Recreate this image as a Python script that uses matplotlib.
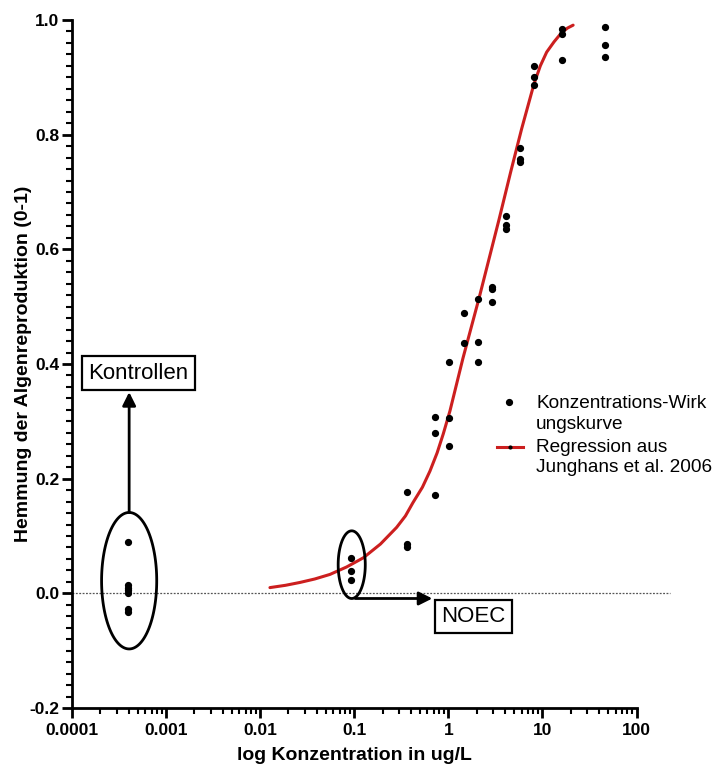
import numpy as np
import matplotlib
matplotlib.use('Agg')
import matplotlib.pyplot as plt
from matplotlib.ticker import FixedLocator, FixedFormatter, LogLocator, MultipleLocator, NullFormatter
from matplotlib.lines import Line2D
from matplotlib.patches import Polygon

plt.rcParams['font.family'] = ['Liberation Sans', 'DejaVu Sans']
plt.rcParams['axes.unicode_minus'] = False

# ---------------- data ----------------
control_conc = 3.9e-4
control_inhib = [0.089, 0.015, 0.010, 0.005, 0.0, -0.027, -0.033]

test_conc = [0.0916, 0.366, 0.726, 1.02, 1.45, 2.06, 2.93, 4.1, 5.77, 8.12, 16.2, 46.0]
test_inhib = [
    [0.061, 0.039, 0.024],
    [0.176, 0.0855, 0.081],
    [0.307, 0.280, 0.172],
    [0.404, 0.306, 0.257],
    [0.489, 0.436],
    [0.514, 0.438, 0.403],
    [0.534, 0.530, 0.508],
    [0.658, 0.642, 0.636],
    [0.777, 0.757, 0.752],
    [0.920, 0.901, 0.887],
    [0.984, 0.976, 0.930],
    [0.988, 0.956, 0.936],
]

# regression curve (Junghans et al. 2006)
fit_conc = [0.0127, 0.0186, 0.0265, 0.038, 0.0552, 0.083, 0.125, 0.19, 0.282,
            0.35, 0.42, 0.53, 0.637, 0.76, 0.883, 1.04, 1.43, 2.13, 3.47, 4.6,
            6.01, 8.12, 9.5, 11.1, 13.3, 16.0, 18.5, 21.2]
fit_inhib = [0.010, 0.014, 0.019, 0.025, 0.033, 0.046, 0.062, 0.086, 0.115,
             0.135, 0.158, 0.185, 0.213, 0.245, 0.278, 0.318, 0.41, 0.516,
             0.653, 0.735, 0.81, 0.888, 0.92, 0.944, 0.962, 0.978, 0.986, 0.991]

x_ticks = [1e-4, 1e-3, 1e-2, 1e-1, 1, 10, 100]
x_tick_labels = ['0.0001', '0.001', '0.01', '0.1', '1', '10', '100']
y_ticks = [-0.2, 0.0, 0.2, 0.4, 0.6, 0.8, 1.0]
y_tick_labels = ['-0.2', '0.0', '0.2', '0.4', '0.6', '0.8', '1.0']

legend_points = 'Konzentrations-Wirk\nungskurve'
legend_fit = 'Regression aus\nJunghans et al. 2006'

RED = '#cc1f1f'

# ---------------- figure ----------------
W, H = 719, 765
fig = plt.figure(figsize=(W / 100, H / 100), dpi=100)
ax = fig.add_axes([72 / W, 1 - 708 / H, 564.5 / W, 688 / H])
ax.set_xscale('log')
ax.set_xlim(1e-4, 100)
ax.set_ylim(-0.2, 1.0)

# zero reference line
ax.plot([1e-4, 229], [0, 0], color='#555555', lw=0.9, dashes=(1.5, 1.2),
        clip_on=False, zorder=1)

# regression curve
ax.plot(fit_conc, fit_inhib, color=RED, lw=2.2, zorder=2,
        solid_capstyle='round', solid_joinstyle='round')

# data points
xs = [control_conc] * len(control_inhib)
ys = list(control_inhib)
for c, vals in zip(test_conc, test_inhib):
    xs += [c] * len(vals)
    ys += vals
ax.plot(xs, ys, 'o', color='black', markersize=4.2, zorder=3, linestyle='none')


def log_ellipse(cx, cy, half_dec, half_h):
    t = np.linspace(0, 2 * np.pi, 300, endpoint=False)
    verts = np.column_stack([10 ** (np.log10(cx) + half_dec * np.cos(t)),
                             cy + half_h * np.sin(t)])
    ax.add_patch(Polygon(verts, closed=True, fill=False, edgecolor='black',
                         lw=2, zorder=4, clip_on=False))


log_ellipse(4.05e-4, 0.022, 0.293, 0.119)
log_ellipse(0.094, 0.050, 0.144, 0.059)

arrow_kw = dict(arrowstyle='-|>', color='black', lw=2, mutation_scale=20,
                shrinkA=0, shrinkB=0)
ax.annotate('', xy=(4.05e-4, 0.351), xytext=(4.05e-4, 0.141), arrowprops=arrow_kw)
ax.annotate('', xy=(0.676, -0.009), xytext=(0.1026, -0.009), arrowprops=arrow_kw)

box_kw = dict(boxstyle='square,pad=0.28', fc='white', ec='black', lw=1.6)
ax.text(5.1e-4, 0.384, 'Kontrollen', fontsize=16, ha='center', va='center', bbox=box_kw)
ax.text(1.85, -0.040, 'NOEC', fontsize=16, ha='center', va='center', bbox=box_kw)

# axes styling
for s in ['top', 'right']:
    ax.spines[s].set_visible(False)
for s in ['left', 'bottom']:
    ax.spines[s].set_linewidth(2)

ax.xaxis.set_major_locator(FixedLocator(x_ticks))
ax.xaxis.set_major_formatter(FixedFormatter(x_tick_labels))
ax.xaxis.set_minor_locator(LogLocator(base=10, subs=np.arange(2, 10), numticks=20))
ax.xaxis.set_minor_formatter(NullFormatter())
ax.yaxis.set_major_locator(FixedLocator(y_ticks))
ax.yaxis.set_major_formatter(FixedFormatter(y_tick_labels))
ax.yaxis.set_minor_locator(MultipleLocator(0.02))

ax.tick_params(which='major', length=7, width=2, direction='out', labelsize=12.5, pad=2)
ax.tick_params(which='minor', length=4, width=1.5, direction='out')
ax.tick_params(axis='x', which='major', pad=4)
for lab in ax.get_xticklabels() + ax.get_yticklabels():
    lab.set_fontweight('bold')

ax.set_xlabel('log Konzentration in ug/L', fontsize=14, fontweight='bold', labelpad=6)
ax.set_ylabel('Hemmung der Algenreproduktion (0-1)', fontsize=14, fontweight='bold')
ax.yaxis.set_label_coords(-0.071, 0.5)


# legend (handles aligned with the first line of each label, as in the original)
def fx(px):
    return px / W


def fy(py):
    return 1 - py / H


fig.add_artist(Line2D([fx(509)], [fy(402)], marker='o', markersize=4.2,
                      color='black', linestyle='none'))
fig.add_artist(Line2D([fx(497), fx(523)], [fy(447), fy(447)], color=RED, lw=2.2))
fig.add_artist(Line2D([fx(510)], [fy(447)], marker='o', markersize=2,
                      color='black', linestyle='none'))
fig.text(fx(536), fy(414), legend_points, fontsize=13.7, ha='left', va='center',
         linespacing=1.25)
fig.text(fx(536), fy(457.5), legend_fit, fontsize=13.7, ha='left', va='center',
         linespacing=1.25)

fig.savefig('out.png', dpi=100)
